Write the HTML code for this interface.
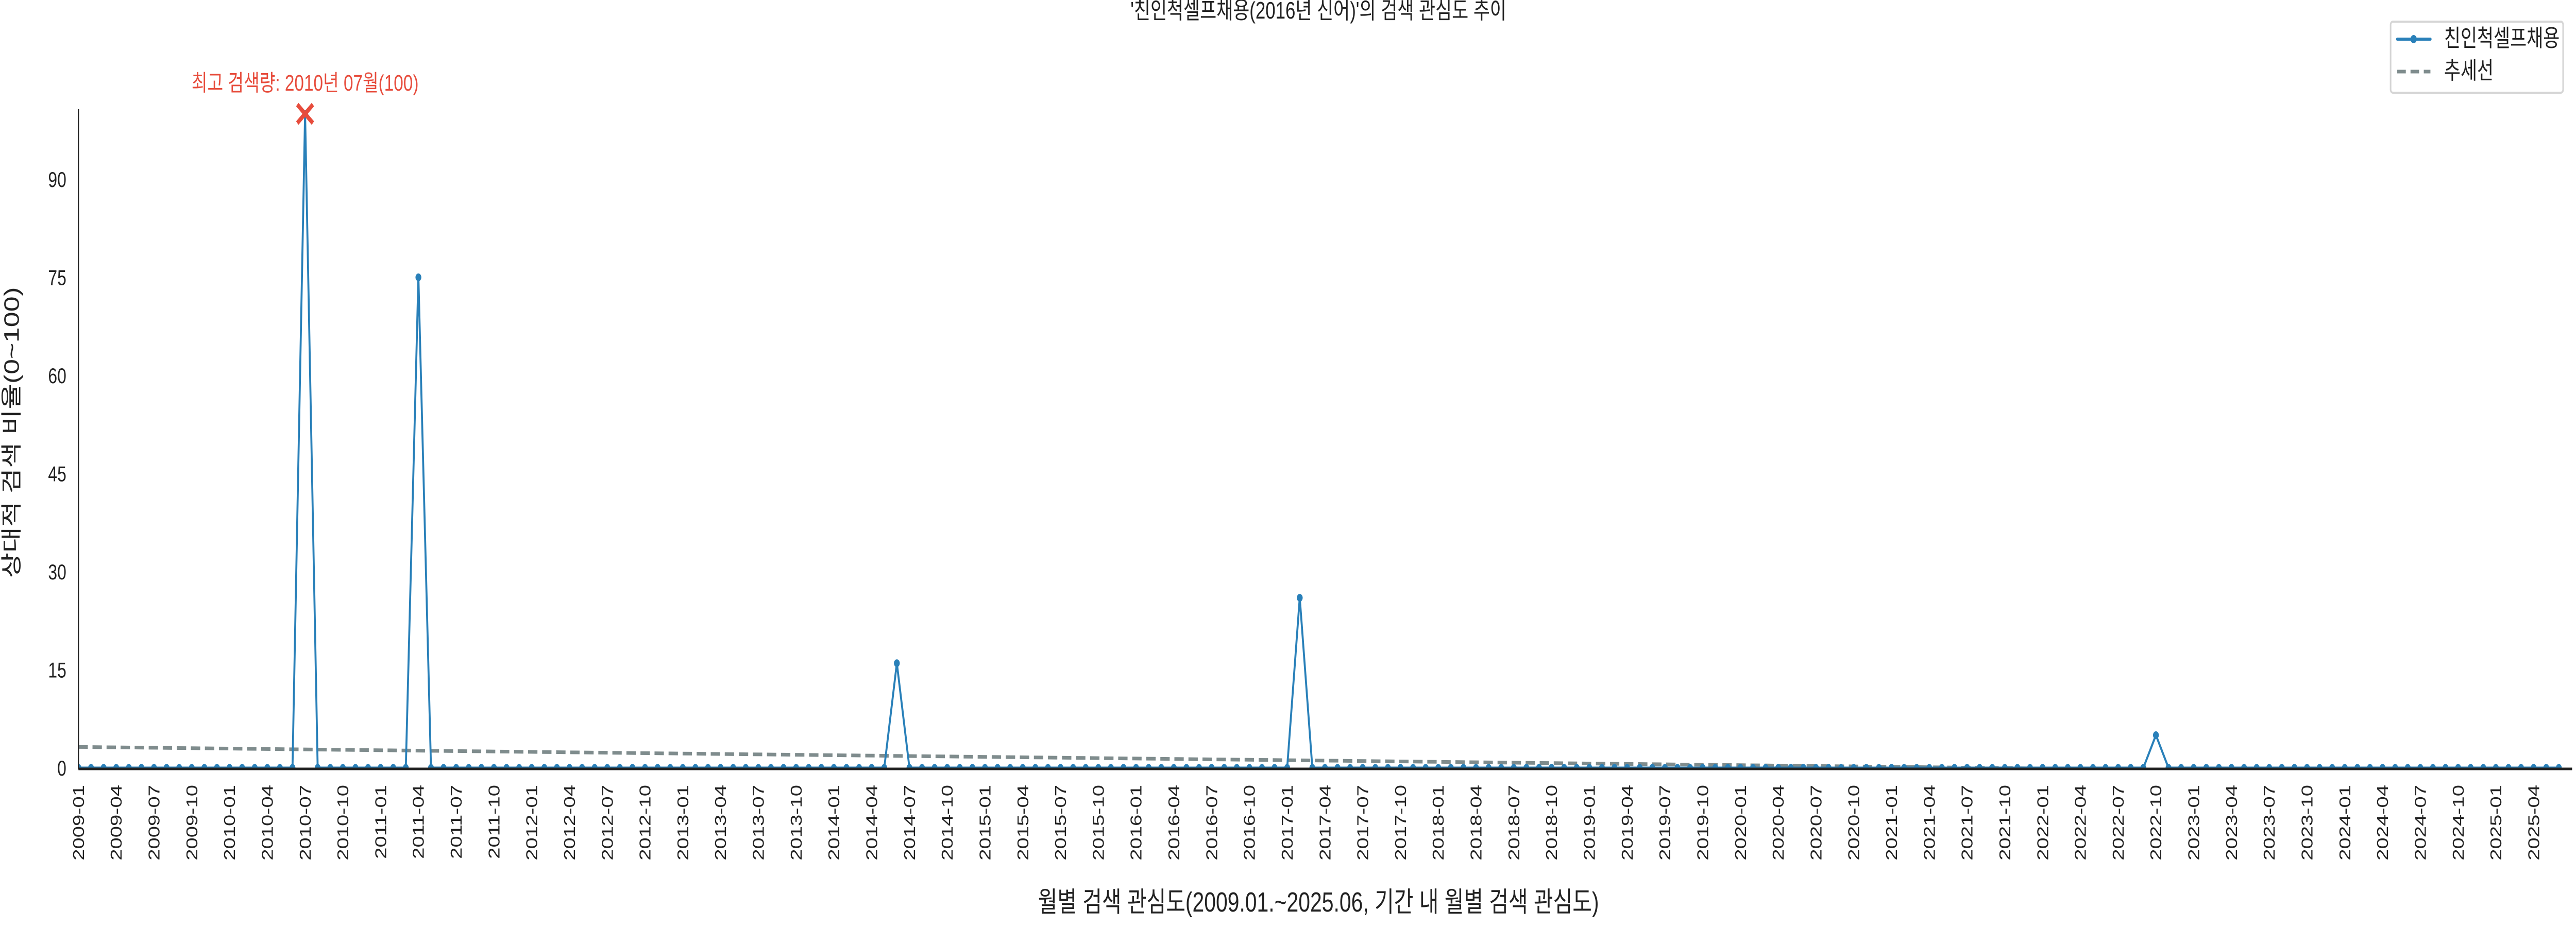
<!DOCTYPE html>
<html><head><meta charset="utf-8">
<style>
html,body{margin:0;padding:0;background:#fff;overflow:hidden;width:100%;height:100%;}
svg{display:block;width:100vw;height:100vh;font-family:"Liberation Sans","Noto Sans CJK KR",sans-serif;}
</style></head>
<body>
<svg id="chart" viewBox="0 0 6600 1800" preserveAspectRatio="none" xmlns="http://www.w3.org/2000/svg">
<defs><clipPath id="plotclip"><rect x="201" y="150" width="6380" height="1341"/></clipPath></defs>
<text x="3378" y="36" text-anchor="middle" font-size="46" fill="#222">'친인척셀프채용(2016년 신어)'의 검색 관심도 추이</text>
<g id="plot"></g>
<text transform="translate(48,840) rotate(-90)" text-anchor="middle" font-size="54" fill="#222">상대적 검색 비율(0~100)</text>
<text x="3378" y="1770" text-anchor="middle" font-size="54" fill="#222">월별 검색 관심도(2009.01.~2025.06, 기간 내 월별 검색 관심도)</text>
<g>
<rect x="6125" y="42" width="442" height="138" rx="6" fill="#fff" stroke="#d5d5d5" stroke-width="4"/>
<g>
<line x1="6142" y1="76" x2="6227" y2="76" stroke="#2980b9" stroke-width="6" stroke-linecap="round"/>
<circle cx="6184" cy="76" r="8" fill="#2980b9"/>
<text x="6262" y="90" font-size="46" fill="#222">친인척셀프채용</text></g>
<g>
<line x1="6142" y1="139" x2="6227" y2="139" stroke="#7f8c8d" stroke-width="7" stroke-dasharray="22,12"/>
<text x="6262" y="153" font-size="46" fill="#222">추세선</text></g>
</g>
</svg>
<script>
const startYear = 2009;
const monthCount = 198;
const spikeMonths = ["2010-07","2011-04","2014-06","2017-02","2022-10"];
const spikeValues = [100, 75, 16, 26, 5];
const yTicks = [0,15,30,45,60,75,90];
const peakLabel = "최고 검색량: 2010년 07월(100)";

const categories = [];
for (let i = 0; i < monthCount; i++) {
  const y = startYear + Math.floor(i/12), m = i%12 + 1;
  categories.push(y + "-" + String(m).padStart(2,"0"));
}
const values = categories.map(c => { const k = spikeMonths.indexOf(c); return k >= 0 ? spikeValues[k] : 0; });

const X0 = 201, X1 = 6556, Y0 = 1491, PXU = 12.7;
const xs = i => X0 + i * (X1 - X0) / (monthCount - 1);
const ys = v => Y0 - v * PXU;
const NS = "http://www.w3.org/2000/svg";
const plot = document.getElementById("plot");
function mk(tag, attrs, parent) {
  const e = document.createElementNS(NS, tag);
  for (const k in attrs) e.setAttribute(k, attrs[k]);
  (parent || plot).appendChild(e);
  return e;
}
yTicks.forEach(t => {
  const e = mk("text", {x: 170, y: ys(t) + 15, "text-anchor": "end", "font-size": 42, fill: "#222"});
  e.textContent = t;
  
  
});
categories.forEach((c, i) => {
  if (i % 3 !== 0) return;
  const e = mk("text", {transform: `translate(${xs(i)+14},1524) rotate(-90)`, "text-anchor": "end", "font-size": 40, fill: "#222"});
  e.textContent = c;
  
  
});
const n = values.length, mx = (n-1)/2, my = values.reduce((a,b)=>a+b,0)/n;
let sxy = 0, sxx = 0;
values.forEach((v,i)=>{ sxy += (i-mx)*(v-my); sxx += (i-mx)*(i-mx); });
const slope = sxy/sxx, icpt = my - slope*mx;
const clipG = mk("g", {"clip-path": "url(#plotclip)"});


const tr = mk("line", {x1: xs(0), y1: ys(icpt), x2: xs(n-1), y2: ys(icpt + slope*(n-1)), stroke: "#7f8c8d", "stroke-width": 7, "stroke-dasharray": "24,12"}, clipG);


const pl = mk("polyline", {points: values.map((v,i)=>xs(i)+","+ys(v)).join(" "), fill: "none", stroke: "#2980b9", "stroke-width": 5, "stroke-linejoin": "round"}, clipG);


values.forEach((v,i)=>{
  const c = mk("circle", {cx: xs(i), cy: ys(v), r: 7.5, fill: "#2980b9"}, clipG);
  
  
});
const ya = mk("line", {x1: X0, y1: 212, x2: X0, y2: Y0+3, stroke: "#222", "stroke-width": 3});


const xa = mk("line", {x1: X0, y1: Y0+2, x2: 6590, y2: Y0+2, stroke: "#222", "stroke-width": 5});


let pi = 0; values.forEach((v,i)=>{ if (v > values[pi]) pi = i; });
const px = xs(pi), py = ys(values[pi]);
const pm = mk("path", {d: `M${px-20},${py-18} L${px+20},${py+18} M${px+20},${py-18} L${px-20},${py+18}`, stroke: "#e74c3c", "stroke-width": 9, fill: "none"});


const pt = mk("text", {x: px, y: 176, "text-anchor": "middle", "font-size": 44, fill: "#e74c3c"});
pt.textContent = peakLabel;


</script>
</body></html>
